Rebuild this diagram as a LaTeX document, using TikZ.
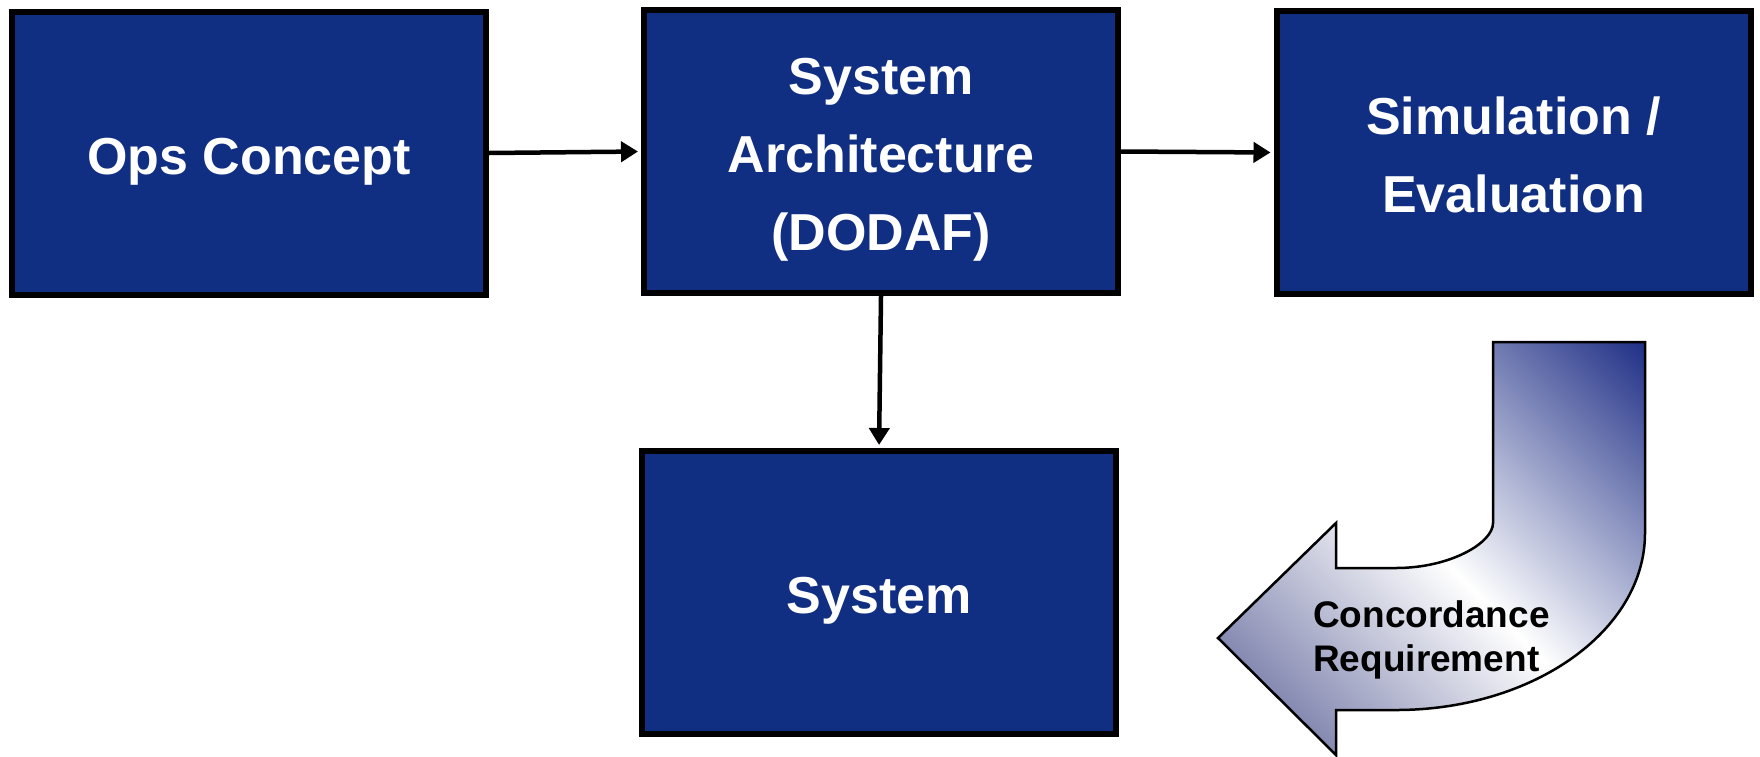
\documentclass[tikz,border=0pt]{standalone}
\usepackage{fontspec}
\setmainfont{Liberation Sans}
\usetikzlibrary{arrows.meta}
\definecolor{boxblue}{RGB}{16,46,130}
\definecolor{arrownavy}{RGB}{28,44,132}
\definecolor{arrowtip}{RGB}{84,90,146}
% smooth diagonal blend for the feedback arrow: tip tint -> white -> navy
\pgfdeclareverticalshading{feedbackblend}{100bp}{%
  color(0bp)=(arrowtip);
  color(14bp)=(arrowtip);
  color(50bp)=(white);
  color(86bp)=(arrownavy);
  color(100bp)=(arrownavy)}
\tikzset{
  block/.style={draw=black, line width=6pt, fill=boxblue, text=white,
    minimum width=474pt, minimum height=283pt, inner sep=0pt,
    align=center, text depth=0pt,
    font=\fontsize{52}{78}\selectfont\bfseries},
  lines1/.style={text height=42pt},
  lines2/.style={text height=120pt},
  lines3/.style={text height=198pt},
  link/.style={line width=4.5pt, -{Triangle[length=17pt,width=20pt]}, shorten >=3pt}
}
\begin{document}
\begin{tikzpicture}[x=1pt,y=-1pt]
  \useasboundingbox (0,0) rectangle (1760,756);

  % process blocks
  \node[block,lines1] (ops)  at (249,153)      {Ops Concept};
  \node[block,lines3] (arch) at (881,151.5)    {System\\Architecture\\(DODAF)};
  \node[block,lines2] (sim)  at (1513.5,152.5) {Simulation /\\Evaluation};
  \node[block,lines1] (sys)  at (879,592.5)    {System};

  % flow between blocks
  \draw[link] (ops.east) -- (arch.west);
  \draw[link] (arch.east) -- (sim.west);
  \draw[link] (arch.south) -- (sys.north);

  % curved feedback arrow
  \path[draw=black, line width=2.5pt, line join=miter,
        shading=feedbackblend, shading angle=-45]
    (1493,342) -- (1645,342) -- (1645,533)
    .. controls (1645,631) and (1533,710) .. (1396,710)
    -- (1336,710) -- (1336,755) -- (1218,638) -- (1336,523) -- (1336,568)
    -- (1396,568)
    .. controls (1450,568) and (1493,543) .. (1493,523)
    -- cycle;

  \node[anchor=north west, inner sep=0pt, align=left,
        font=\fontsize{37}{44}\selectfont\bfseries] (conc) at (1313,600)
    {Concordance\\Requirement};
\end{tikzpicture}
\end{document}
